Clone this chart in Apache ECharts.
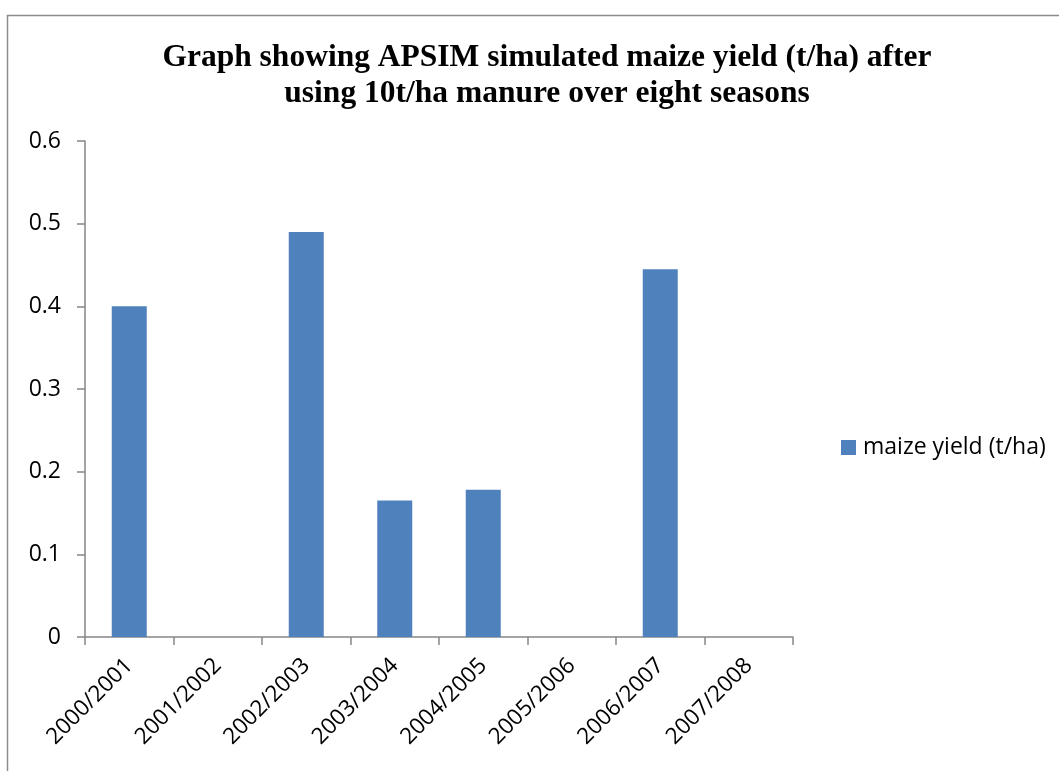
<!DOCTYPE html>
<html><head><meta charset="utf-8">
<script src="https://cdn.jsdelivr.net/npm/echarts@6/dist/echarts.min.js"></script>
<style>html,body{margin:0;padding:0;background:#fff}#c{width:1059px;height:771px}</style>
</head><body><div id="c"></div>
<script>
const categories = ['2000/2001','2001/2002','2002/2003','2003/2004','2004/2005','2005/2006','2006/2007','2007/2008'];
const maizeYield = [0.40, 0, 0.49, 0.165, 0.178, 0, 0.445, 0];
const yTicks = [0, 0.1, 0.2, 0.3, 0.4, 0.5, 0.6];
const seriesName = 'maize yield (t/ha)';

const chart = echarts.init(document.getElementById('c'));
chart.setOption({
  animation: false,
  graphic: [{
    type: 'rect', left: 5, top: 13, shape: {width: 1100, height: 800},
    style: {fill: 'none', stroke: '#8c8c8c', lineWidth: 1.5}, silent: true
  }],
  title: {
    text: 'Graph showing APSIM simulated maize yield (t/ha) after\nusing 10t/ha manure over eight seasons',
    left: 542, textAlign: 'center', top: 35,
    textStyle: {fontFamily: 'Liberation Serif', fontWeight: 'bold', fontSize: 31.5, lineHeight: 36, color: '#000'}
  },
  legend: {
    left: 836, top: 431, itemWidth: 15, itemHeight: 15, itemGap: 8,
    textStyle: {fontFamily: 'Open Sans', fontSize: 23, color: '#000', padding: [0, 0, 0, 2]},
    data: [{name: seriesName, icon: 'rect'}]
  },
  grid: {left: 85, right: 266, top: 141, bottom: 134, containLabel: false},
  xAxis: {
    type: 'category', data: categories,
    axisLine: {lineStyle: {color: '#868686', width: 1.5}},
    axisTick: {show: true, alignWithLabel: false, length: 8, lineStyle: {color: '#868686', width: 1.5}},
    axisLabel: {rotate: 45, interval: 0, fontFamily: 'Open Sans', fontSize: 22.5, color: '#000', margin: 25}
  },
  yAxis: {
    type: 'value', min: 0, max: 0.6, interval: 0.1,
    axisLine: {show: true, lineStyle: {color: '#868686', width: 1.5}},
    axisTick: {show: true, length: 8, lineStyle: {color: '#868686', width: 1.5}},
    splitLine: {show: false},
    axisLabel: {fontFamily: 'Open Sans', fontSize: 23, color: '#000', margin: 24,
      formatter: v => yTicks.includes(Math.round(v*10)/10) ? String(Math.round(v*10)/10) : ''}
  },
  series: [{
    name: seriesName, type: 'bar', data: maizeYield, barWidth: 35,
    itemStyle: {color: '#4f81bd'}
  }]
});
</script></body></html>
